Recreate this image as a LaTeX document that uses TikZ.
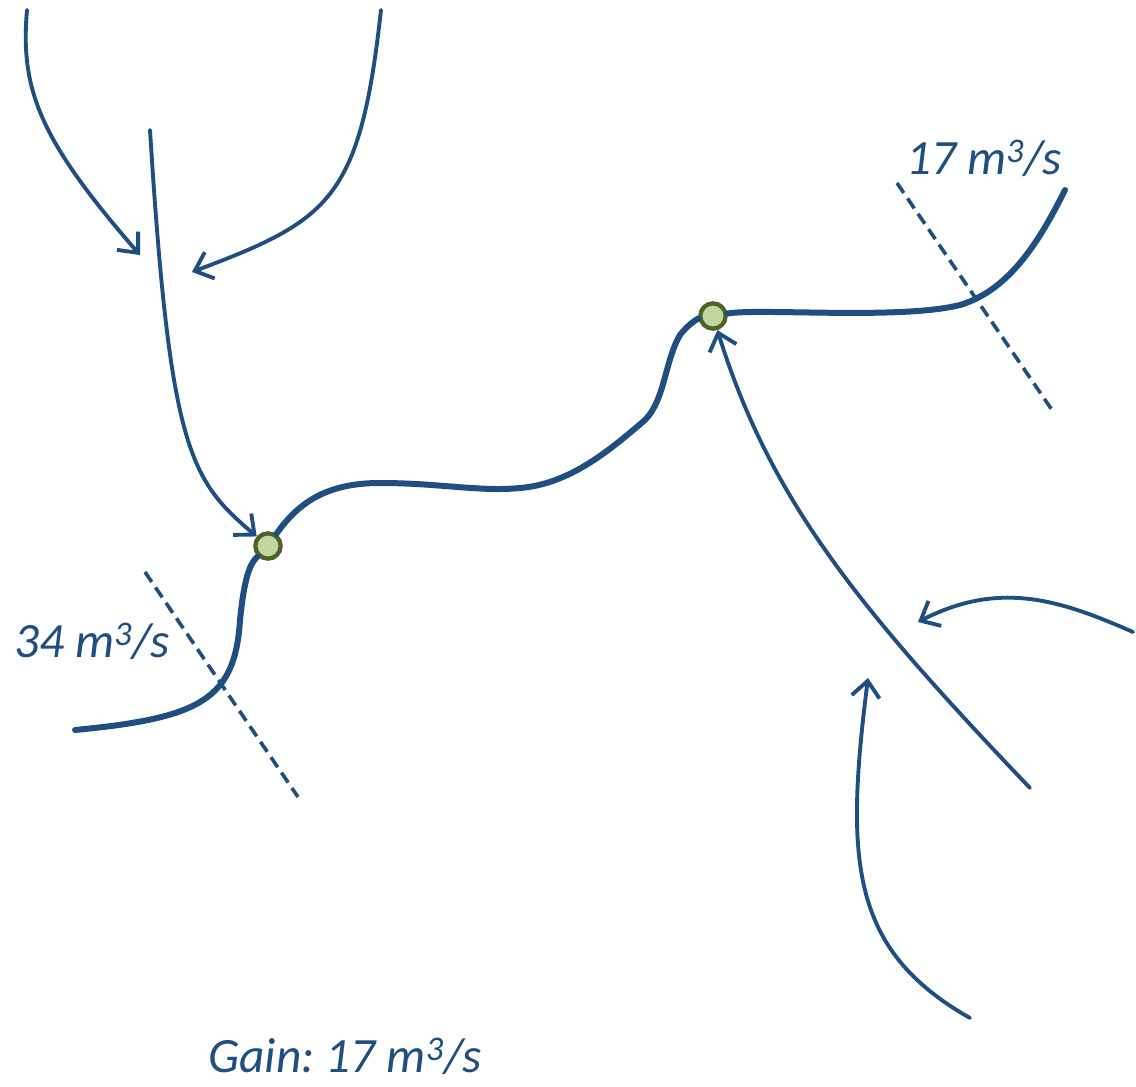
\documentclass[tikz,border=0pt]{standalone}
\usepackage{fontspec}
\setmainfont{Carlito}
\usetikzlibrary{arrows.meta}
\definecolor{river}{HTML}{1F4E80}
\definecolor{junfill}{HTML}{C3D69B}
\definecolor{junline}{HTML}{4F6228}

\begin{document}
\frenchspacing
\begin{tikzpicture}[
    x=0.75pt, y=-0.75pt,
    trib/.style={draw=river, line width=2.9pt, line cap=round},
    main/.style={draw=river, line width=4.5pt, line cap=round},
    arrow/.style={trib, -{Straight Barb[length=12pt, width=21pt, line width=2.9pt]}},
    gauge/.style={draw=river, line width=2.7pt, dash pattern=on 9pt off 5pt},
    junction/.style={circle, draw=junline, fill=junfill, line width=3.2pt,
                     minimum size=19pt, inner sep=0pt},
    flow/.style={text=river, font=\fontsize{37}{42}\selectfont\itshape}
]
\useasboundingbox (0,0) rectangle (1136,1087);

\node[junction] (junA) at (268,546) {};
\node[junction] (junB) at (713,316) {};

\coordinate (srcA) at (27,10);
\coordinate (srcB) at (381,10);
\coordinate (srcC) at (150,130);
\coordinate (srcD) at (1030,788);
\coordinate (srcE) at (1133,632);
\coordinate (srcF) at (970,1018);
\coordinate (tipA) at (140,255);
\coordinate (tipB) at (192,272);
\coordinate (tipE) at (918,622);
\coordinate (tipF) at (868,678);
\coordinate (outlet) at (75,730);
\coordinate (inlet) at (1065,190);

% main stem
\draw[main] (outlet) .. controls (200,718) and (235,700) .. (240,620)
    .. controls (245,570) and (252,562) .. (junA);
\draw[main] (junA) .. controls (300,500) and (330,483) .. (380,483)
    .. controls (440,483) and (480,492) .. (520,488)
    .. controls (570,484) and (610,450) .. (645,420)
    .. controls (665,400) and (665,360) .. (680,335)
    .. controls (690,322) and (700,318) .. (junB);
\draw[main] (junB) .. controls (760,308) and (900,320) .. (960,305)
    .. controls (1010,290) and (1040,240) .. (inlet);

% tributaries
\draw[arrow] (srcA) .. controls (20,90) and (40,140) .. (tipA);
\draw[arrow] (srcB) .. controls (360,200) and (330,220) .. (tipB);
\draw[arrow] (srcC) .. controls (170,450) and (190,480) .. (junA);
\draw[arrow] (srcD) .. controls (860,610) and (770,500) .. (junB);
\draw[arrow] (srcE) .. controls (1060,600) and (1000,580) .. (tipE);
\draw[arrow] (srcF) .. controls (850,950) and (845,860) .. (tipF);

% gauging sections
\draw[gauge] (145,572) -- (298,797);
\draw[gauge] (897,183) -- (1052,410);

\node[flow] (qup)   at (984,158)  {17 m\textsuperscript{3}/s};
\node[flow] (qdown) at (92,641)   {34 m\textsuperscript{3}/s};
\node[flow] (gain)  at (345,1056) {Gain: 17 m\textsuperscript{3}/s};
\end{tikzpicture}
\end{document}
